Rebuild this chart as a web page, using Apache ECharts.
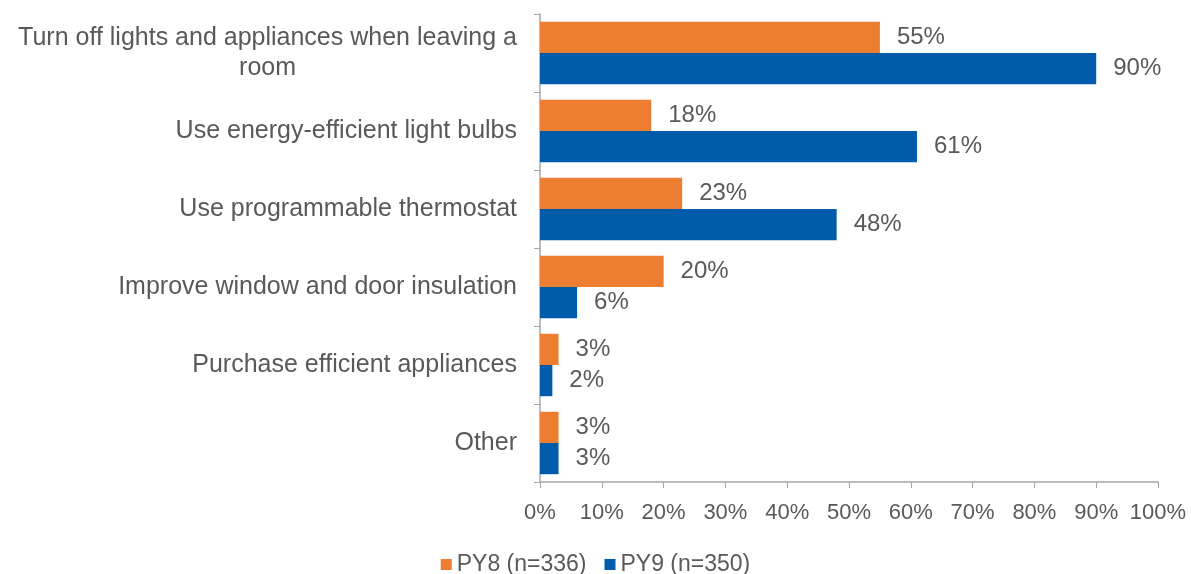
<!DOCTYPE html>
<html><head><meta charset="utf-8">
<script src="https://cdn.jsdelivr.net/npm/echarts@6/dist/echarts.min.js"></script>
<style>html,body{margin:0;padding:0;background:#fff}#c{width:1191px;height:574px}</style>
</head><body><div id="c"></div>
<script>
const categories = [
  "Turn off lights and appliances when leaving a room",
  "Use energy-efficient light bulbs",
  "Use programmable thermostat",
  "Improve window and door insulation",
  "Purchase efficient appliances",
  "Other"
];
const py8 = [55, 18, 23, 20, 3, 3];
const py9 = [90, 61, 48, 6, 2, 3];
const seriesNames = ["PY8 (n=336)", "PY9 (n=350)"];
const xTicks = [0, 10, 20, 30, 40, 50, 60, 70, 80, 90, 100];

const FONT = '"Liberation Sans Narrow", "Liberation Sans", sans-serif';
const TXT = '#595959';
const chart = echarts.init(document.getElementById('c'));
const lbl = {show: true, position: 'right', distance: 17, formatter: p => p.value + '%', color: TXT, fontSize: 24, fontFamily: FONT};
chart.setOption({
  animation: false,
  grid: {left: 540, right: 33, top: 14, bottom: 92, containLabel: false},
  legend: {top: 548, left: 'center', itemWidth: 11, itemHeight: 11, itemGap: 18, icon: 'rect',
    textStyle: {color: TXT, fontSize: 23, fontFamily: FONT}, data: seriesNames},
  xAxis: {type: 'value', min: 0, max: 100, interval: 10,
    axisLine: {show: true, lineStyle: {color: '#A6A6A6', width: 1.5}},
    axisTick: {show: true, length: 6, lineStyle: {color: '#A6A6A6'}},
    splitLine: {show: false},
    axisLabel: {color: TXT, fontSize: 22, fontFamily: FONT, margin: 20, formatter: v => xTicks.includes(v) ? v + '%' : ''}},
  yAxis: {type: 'category', inverse: true, data: categories,
    axisLine: {show: true, lineStyle: {color: '#A6A6A6', width: 1.5}},
    axisTick: {show: true, length: 6, lineStyle: {color: '#A6A6A6'}},
    axisLabel: {color: TXT, fontSize: 25, fontFamily: FONT, margin: 23, lineHeight: 30,
      formatter: v => v.startsWith('Turn off') ? '{a|Turn off lights and appliances when leaving a}\n{b|room}' : v,
      rich: {a: {color: TXT, fontSize: 25, fontFamily: FONT, lineHeight: 30}, b: {color: TXT, fontSize: 25, fontFamily: FONT, lineHeight: 30, align: 'center'}}}},
  series: [
    {name: seriesNames[0], type: 'bar', data: py8, barGap: '0%', barCategoryGap: '20%', itemStyle: {color: '#ED7D31'}, label: lbl},
    {name: seriesNames[1], type: 'bar', data: py9, barGap: '0%', barCategoryGap: '20%', itemStyle: {color: '#005BAA'}, label: lbl}
  ]
});
</script></body></html>
